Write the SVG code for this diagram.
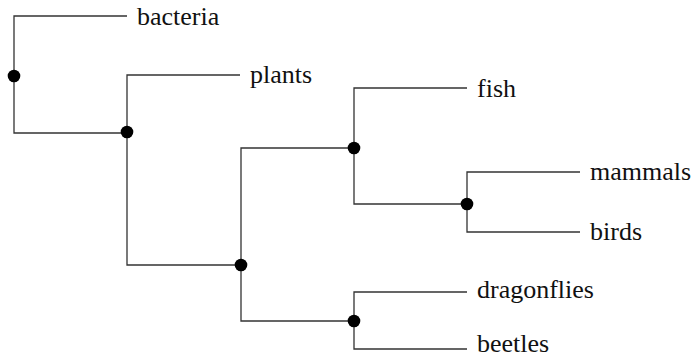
<svg xmlns="http://www.w3.org/2000/svg" width="696" height="359" viewBox="0 0 696 359">
<style>
.e{fill:none;stroke:#333;stroke-width:1.3}
.n{fill:#000}
</style>
<rect width="696" height="359" fill="#fff"/>
<g id="connectors">
<path class="e" d="M127,16H14V133H127"/>
<path class="e" d="M240,75H127V265H241"/>
<path class="e" d="M354,148H241V321H354"/>
<path class="e" d="M467,88H354V204H467"/>
<path class="e" d="M580,172H467V232H580"/>
<path class="e" d="M467,292H354V349H467"/>
</g>
<g id="root"><circle class="n" cx="14" cy="76" r="6.3"/></g>
<g id="n1"><circle class="n" cx="127" cy="132" r="6.3"/></g>
<g id="n2"><circle class="n" cx="241" cy="265" r="6.3"/></g>
<g id="n3"><circle class="n" cx="354" cy="148" r="6.3"/></g>
<g id="n4"><circle class="n" cx="467" cy="204" r="6.3"/></g>
<g id="n5"><circle class="n" cx="354" cy="321" r="6.3"/></g>
<g font-family="Liberation Serif, Times New Roman, serif" font-size="26" fill="#111">
<g id="bacteria"><text x="137" y="25">bacteria</text></g>
<g id="plants"><text x="250" y="83">plants</text></g>
<g id="fish"><text x="477" y="97">fish</text></g>
<g id="mammals"><text x="590" y="180">mammals</text></g>
<g id="birds"><text x="590" y="240">birds</text></g>
<g id="dragonflies"><text x="477" y="298">dragonflies</text></g>
<g id="beetles"><text x="477" y="352">beetles</text></g>
</g>
</svg>
